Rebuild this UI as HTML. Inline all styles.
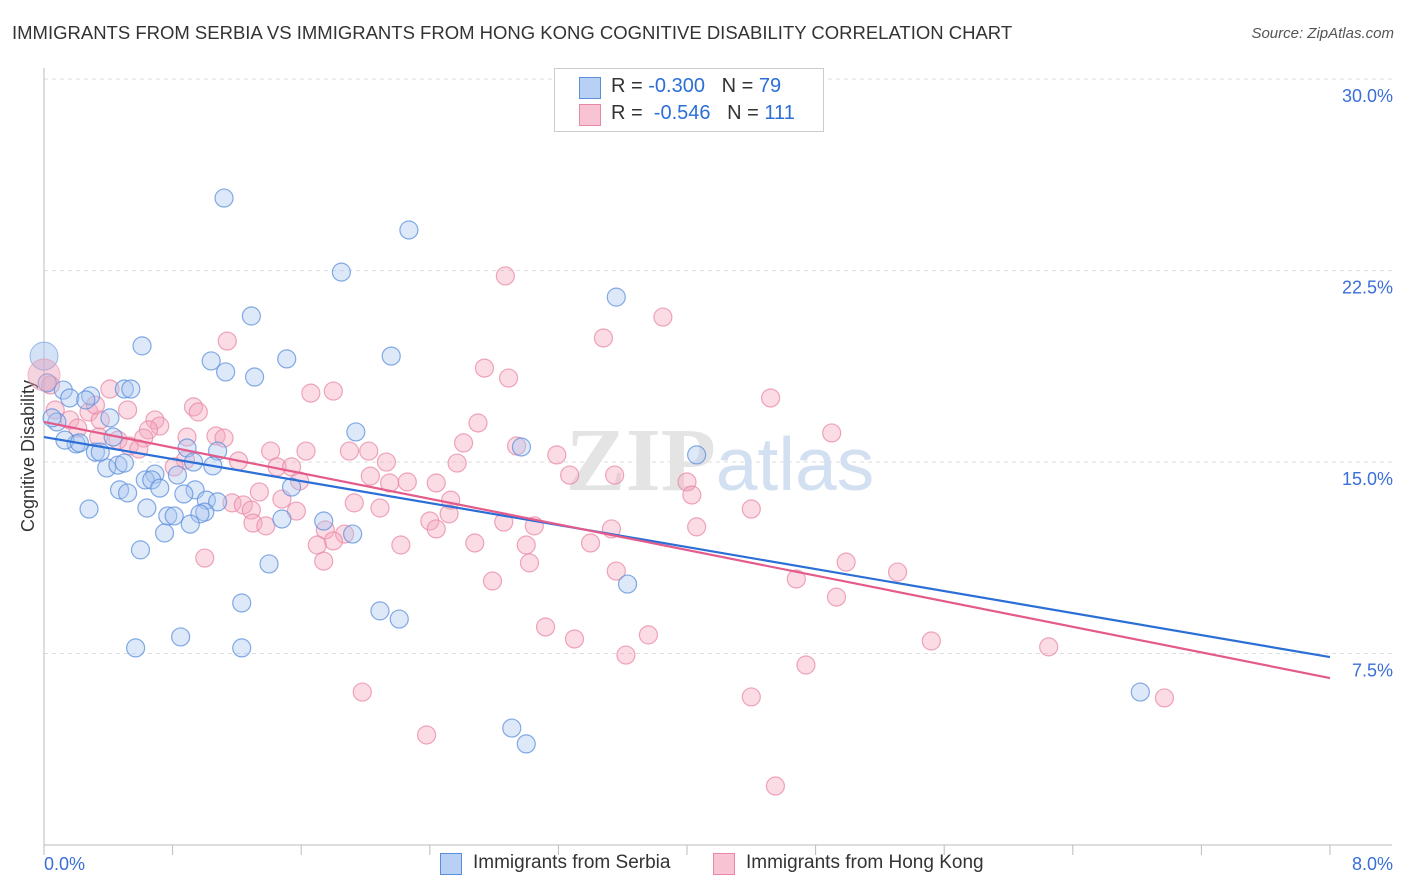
<!DOCTYPE html>
<html><head><meta charset="utf-8"><style>
body{margin:0;background:#fff;font-family:"Liberation Sans",sans-serif;}
#wrap{position:relative;width:1406px;height:892px;overflow:hidden;}
.t{position:absolute;white-space:nowrap;}
</style></head><body>
<div id="wrap">
<div class="t" style="left:12px;top:22px;font-size:18.5px;color:#333;">IMMIGRANTS FROM SERBIA VS IMMIGRANTS FROM HONG KONG COGNITIVE DISABILITY CORRELATION CHART</div>
<div class="t" style="right:12px;top:25px;font-size:15px;color:#555;font-style:italic;">Source: ZipAtlas.com</div>
<svg id="plot" width="1406" height="892" style="position:absolute;left:0;top:0"></svg>
</div>
<script>
const yTicks=[7.5,15,22.5,30];
const yTickLabels=["7.5%","15.0%","22.5%","30.0%"];
const xTickLabels=["0.0%","8.0%"];
const serbiaX=[1.12,2.27,1.85,3.56,1.29,0.61,1.04,1.51,2.16,1.13,1.31,0.50,0.54,0.12,0.29,0.16,0.26,0.41,0.08,1.94,0.20,0.89,0.32,0.43,1.08,2.97,4.06,0.39,0.46,0.50,0.93,1.05,0.69,0.83,0.63,0.67,0.47,0.52,0.72,0.94,0.87,1.54,1.01,1.08,0.28,0.64,0.77,0.81,1.00,0.97,0.91,1.48,1.74,0.75,1.92,0.60,1.40,3.63,1.23,2.09,2.21,0.85,0.57,1.23,6.82,2.91,3.00,0.02,0.05,0.13,0.22,0.35];
const serbiaY=[25.34,24.09,22.44,21.46,20.72,19.55,18.96,19.04,19.15,18.53,18.33,17.86,17.86,17.82,17.59,17.51,17.43,16.73,16.57,16.18,15.71,15.55,15.39,15.98,15.43,15.59,15.28,14.77,14.88,14.96,15.00,14.85,14.53,14.49,14.30,14.30,13.91,13.79,13.98,13.91,13.75,14.02,13.51,13.44,13.16,13.20,12.89,12.89,13.04,12.97,12.57,12.77,12.69,12.22,12.18,11.56,11.01,10.22,9.48,9.17,8.85,8.15,7.72,7.72,5.99,4.58,3.96,18.10,16.73,15.86,15.75,15.39];
const hkX=[2.87,3.85,3.48,1.14,2.74,2.89,1.80,1.66,0.41,4.52,0.93,0.96,0.52,0.28,0.69,0.72,0.65,2.70,4.90,0.89,1.07,1.12,0.62,0.46,0.53,0.59,2.61,2.94,1.41,1.63,1.90,2.02,3.19,1.21,0.88,2.13,2.57,1.45,1.54,0.81,2.03,3.27,3.55,1.59,2.15,2.26,2.44,4.00,1.34,4.03,1.48,1.93,2.53,1.17,1.24,1.29,1.57,2.09,4.40,2.52,2.40,1.30,1.38,2.44,2.86,3.05,3.53,4.06,1.75,1.87,1.80,2.22,1.70,2.68,3.00,3.40,1.00,1.74,3.02,4.99,3.56,5.31,2.79,4.68,4.93,3.12,3.30,3.76,5.52,6.25,3.62,4.74,1.98,4.40,6.97,2.38,4.55,0.04,0.07,0.16,0.21,0.34,0.35,0.32];
const hkY=[22.29,20.68,19.86,19.74,18.68,18.29,17.78,17.70,17.86,17.51,17.16,16.96,17.04,16.96,16.65,16.41,16.26,16.53,16.14,15.98,16.02,15.94,15.94,15.86,15.63,15.51,15.75,15.63,15.43,15.43,15.43,15.43,15.28,15.04,15.08,15.00,14.96,14.81,14.81,14.81,14.45,14.49,14.49,14.26,14.18,14.22,14.18,14.22,13.83,13.71,13.55,13.40,13.51,13.40,13.32,13.12,13.08,13.20,13.16,12.97,12.69,12.61,12.50,12.38,12.65,12.50,12.38,12.46,12.34,12.18,11.91,11.75,11.75,11.83,11.75,11.83,11.24,11.12,11.05,11.08,10.73,10.69,10.34,10.42,9.71,8.54,8.07,8.23,7.99,7.76,7.44,7.05,5.99,5.80,5.76,4.31,2.31,18.02,17.04,16.65,16.33,15.98,16.65,17.23];
const bigX=[0.0,0.0];const bigY=[19.15,18.41];
const trendStart=[15.98,16.57];const trendEnd=[7.36,6.54];

const NS="http://www.w3.org/2000/svg";
const svg=document.getElementById('plot');
const X0=44,X1=1330,Y0=845,PXY=25.53;
const sx=v=>X0+(v/8)*(X1-X0);
const sy=v=>Y0-v*PXY;
function mk(tag,attrs,parent){const e=document.createElementNS(NS,tag);for(const k in attrs)e.setAttribute(k,attrs[k]);(parent||svg).appendChild(e);return e;}
// grid
yTicks.forEach((t,i)=>{
 const g=mk('line',{x1:X0,x2:1392,y1:sy(t),y2:sy(t),stroke:'#ddd','stroke-dasharray':'4,4'});
 
 
 const l=mk('text',{x:1393,y:sy(t)+23,'text-anchor':'end','font-size':'18',fill:'#3a6fd8','font-family':'Liberation Sans'});
 l.textContent=yTickLabels[i];
 
 
});
const ax=mk('line',{x1:X0,x2:X0,y1:68,y2:Y0,stroke:'#bbb'});


const bx=mk('line',{x1:X0,x2:1392,y1:Y0,y2:Y0,stroke:'#bbb'});


for(let i=0;i<=10;i++){const tk=mk('line',{x1:sx(i*0.8),x2:sx(i*0.8),y1:Y0,y2:Y0+10,stroke:'#bbb'});
 
 }
[[0,'start',44],[8,'end',1393]].forEach((d,i)=>{const l=mk('text',{x:d[2],y:870,'text-anchor':d[1],'font-size':'18',fill:'#3a6fd8','font-family':'Liberation Sans'});l.textContent=xTickLabels[i];
 
 });
const yt=mk('text',{x:34,y:456,'text-anchor':'middle','font-size':'18',fill:'#333','font-family':'Liberation Sans',transform:'rotate(-90 34 456)'});
yt.textContent='Cognitive Disability';


// watermark
const wm=mk('text',{x:720,y:490,'text-anchor':'middle','font-size':'90','font-family':'Liberation Serif',fill:'#e4e4e4'});
wm.innerHTML='<tspan font-weight="bold">ZIP</tspan><tspan fill="#d3e0f2" font-family="Liberation Sans" font-size="75">atlas</tspan>';


function dots(xs,ys,fill,stroke,name,r){xs.forEach((v,i)=>{const c=mk('circle',{cx:sx(v),cy:sy(ys[i]),r:r,fill:fill,'fill-opacity':0.4,stroke:stroke,'stroke-opacity':0.75,'stroke-width':1.2});
 
 });}
dots(hkX,hkY,'#f4a7bd','#e888a6','hongkong-point',9);
dots(serbiaX,serbiaY,'#a9c6f0','#5b8fdc','serbia-point',9);
const b1=mk('circle',{cx:sx(bigX[0]),cy:sy(bigY[0]),r:14,fill:'#a9c6f0','fill-opacity':0.5,stroke:'#5b8fdc','stroke-opacity':0.6});


const b2=mk('circle',{cx:sx(bigX[1]),cy:sy(bigY[1]),r:16,fill:'#e8a0b8','fill-opacity':0.45,stroke:'#e888a6','stroke-opacity':0.5});


const cols=['#2b6fd6','#e45b8b'],names=['serbia-trendline','hongkong-trendline'];
trendStart.forEach((s,i)=>{const l=mk('line',{x1:sx(0),y1:sy(s),x2:sx(8),y2:sy(trendEnd[i]),stroke:cols[i],'stroke-width':2.2});
 
 });
</script>
<div style="position:absolute;left:554px;top:68px;width:268px;height:62px;border:1px solid #ccc;background:#fff;font-size:20px;">
 <div style="position:absolute;left:24px;top:8px;width:20px;height:20px;background:#b8d0f3;border:1px solid #5b8fdc;"></div>
 <div class="t" style="left:56px;top:6px;color:#333;">R = <span style="color:#2b6fd6">-0.300</span>&nbsp;&nbsp;&nbsp;N = <span style="color:#2b6fd6">79</span></div>
 <div style="position:absolute;left:24px;top:35px;width:20px;height:20px;background:#f8c3d3;border:1px solid #e888a6;"></div>
 <div class="t" style="left:56px;top:33px;color:#333;">R = <span style="color:#2b6fd6">&nbsp;-0.546</span>&nbsp;&nbsp;&nbsp;N = <span style="color:#2b6fd6">111</span></div>
</div>
<div style="position:absolute;left:440px;top:852px;font-size:19px;color:#333;">
 <div style="position:absolute;left:0;top:0;width:260px;"><div style="position:absolute;left:0;top:1px;width:20px;height:20px;background:#b8d0f3;border:1px solid #5b8fdc;"></div><span class="t" style="left:33px;top:0;">Immigrants from Serbia</span></div>
 <div style="position:absolute;left:273px;top:0;width:300px;"><div style="position:absolute;left:0;top:1px;width:20px;height:20px;background:#f8c3d3;border:1px solid #e888a6;"></div><span class="t" style="left:33px;top:0;">Immigrants from Hong Kong</span></div>
</div>
</body></html>
